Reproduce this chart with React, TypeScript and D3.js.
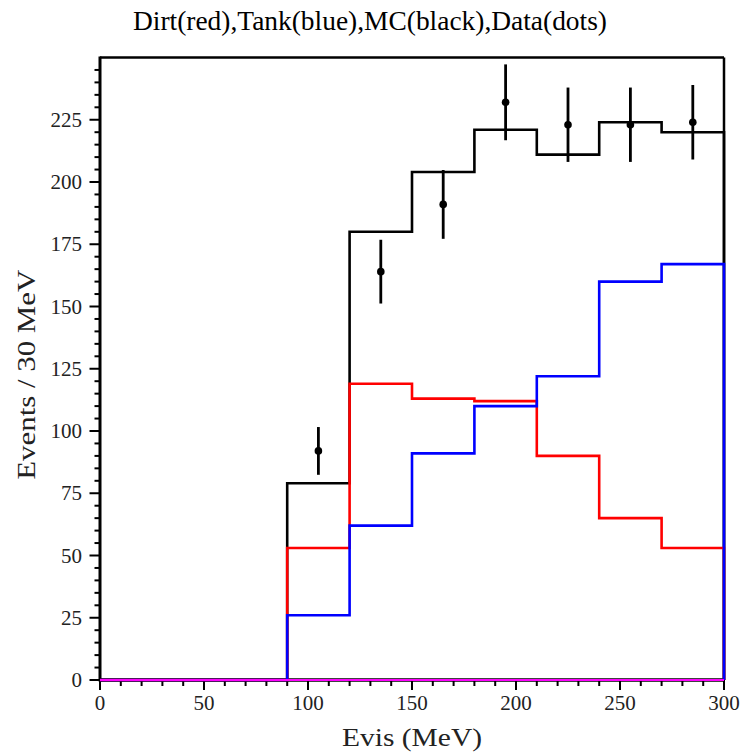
import React from "react";
import * as d3 from "d3";

// Histogram binning (30 MeV bins over 0-300 MeV)
const binEdges = [0, 30, 60, 90, 120, 150, 180, 210, 240, 270, 300];
const dirtCounts = [0, 0, 0, 53, 119, 113, 112, 90, 65, 53];
const tankCounts = [0, 0, 0, 26, 62, 91, 110, 122, 160, 167];
const mcCounts = [0, 0, 0, 79, 180, 204, 221, 211, 224, 220];
const otherCounts = [0, 0, 0, 0, 0, 0, 0, 0, 0, 0];

// Measured data points (bin centres and counts)
const dataEvis = [105, 135, 165, 195, 225, 255, 285];
const dataCounts = [92, 164, 191, 232, 223, 223, 224];

const xTickLabels = [0, 50, 100, 150, 200, 250, 300];
const yTickLabels = [0, 25, 50, 75, 100, 125, 150, 175, 200, 225];

const W = 745;
const H = 753;
const left = 100;
const right = 724;
const top = 57.5;
const bottom = 680;

const FONT = "'Liberation Serif', 'Times New Roman', serif";

export default function App() {
  const x = d3.scaleLinear().domain([0, 300]).range([left, right]);
  const y = d3.scaleLinear().domain([0, 250]).range([bottom, top]);

  const stepPath = (counts: number[]) => {
    const pts: [number, number][] = [[binEdges[0], 0]];
    counts.forEach((c, i) => {
      pts.push([binEdges[i], c]);
      pts.push([binEdges[i + 1], c]);
    });
    pts.push([binEdges[binEdges.length - 1], 0]);
    return d3
      .line<[number, number]>()
      .x((d) => x(d[0]))
      .y((d) => y(d[1]))(pts) as string;
  };

  const xMinor = d3.range(0, 301, 10);
  const yMinor = d3.range(0, 250, 5);

  return (
    <svg
      width={W}
      height={H}
      style={{ position: "fixed", left: 0, top: 0, background: "#fff" }}
    >
      <rect width={W} height={H} fill="#fff" />
      <text
        x={133}
        y={30}
        fontFamily={FONT}
        fontSize={27}
        textLength={474}
        lengthAdjust="spacingAndGlyphs"
        fill="#000"
      >
        Dirt(red),Tank(blue),MC(black),Data(dots)
      </text>

      {/* frame */}
      <line x1={left} x2={right} y1={top} y2={top} stroke="#000" strokeWidth={2.5} />
      <line x1={right} x2={right} y1={top} y2={bottom} stroke="#000" strokeWidth={2.5} />

      {/* y axis ticks */}
      {yMinor.map((v) => (
        <line
          key={"ym" + v}
          x1={left - (v % 25 === 0 ? 10.5 : 5.5)}
          x2={left}
          y1={y(v)}
          y2={y(v)}
          stroke="#000"
          strokeWidth={2}
        />
      ))}
      {yTickLabels.map((v) => (
        <text
          key={"yl" + v}
          x={82}
          y={y(v)}
          dy="0.34em"
          textAnchor="end"
          fontFamily={FONT}
          fontSize={21}
          fill="#222"
        >
          {v}
        </text>
      ))}

      {/* x axis ticks */}
      {xMinor.map((v) => (
        <line
          key={"xm" + v}
          x1={x(v)}
          x2={x(v)}
          y1={bottom}
          y2={bottom + (v % 50 === 0 ? 10 : 6)}
          stroke="#000"
          strokeWidth={2}
        />
      ))}
      {xTickLabels.map((v) => (
        <text
          key={"xl" + v}
          x={x(v)}
          y={710}
          textAnchor="middle"
          fontFamily={FONT}
          fontSize={21}
          fill="#222"
        >
          {v}
        </text>
      ))}

      {/* axis lines */}
      <line x1={left} x2={left} y1={top - 1} y2={bottom + 1.5} stroke="#000" strokeWidth={3} />
      <line x1={left} x2={right} y1={bottom} y2={bottom} stroke="#000" strokeWidth={3.5} />

      {/* histograms */}
      <path d={stepPath(mcCounts)} fill="none" stroke="#000" strokeWidth={2.6} />
      <path d={stepPath(dirtCounts)} fill="none" stroke="#ff0000" strokeWidth={2.6} />
      <path d={stepPath(tankCounts)} fill="none" stroke="#0000ff" strokeWidth={2.6} />
      <path d={stepPath(otherCounts)} fill="none" stroke="#ff00ff" strokeWidth={1.8} />

      {/* data points with statistical errors */}
      {dataEvis.map((e, i) => {
        const c = dataCounts[i];
        const err = Math.sqrt(c);
        return (
          <g key={"d" + e}>
            <line
              x1={x(e)}
              x2={x(e)}
              y1={y(c - err)}
              y2={y(c + err)}
              stroke="#000"
              strokeWidth={2.8}
            />
            <circle cx={x(e)} cy={y(c)} r={3.8} fill="#000" />
          </g>
        );
      })}

      <text
        x={(left + right) / 2}
        y={746}
        textAnchor="middle"
        fontFamily={FONT}
        fontSize={26}
        textLength={140}
        lengthAdjust="spacingAndGlyphs"
        fill="#222"
      >
        Evis (MeV)
      </text>
      <text
        transform={`translate(35, ${(top + bottom) / 2 + 6}) rotate(-90)`}
        textAnchor="middle"
        fontFamily={FONT}
        fontSize={26}
        textLength={210}
        lengthAdjust="spacingAndGlyphs"
        fill="#222"
      >
        Events / 30 MeV
      </text>
    </svg>
  );
}
